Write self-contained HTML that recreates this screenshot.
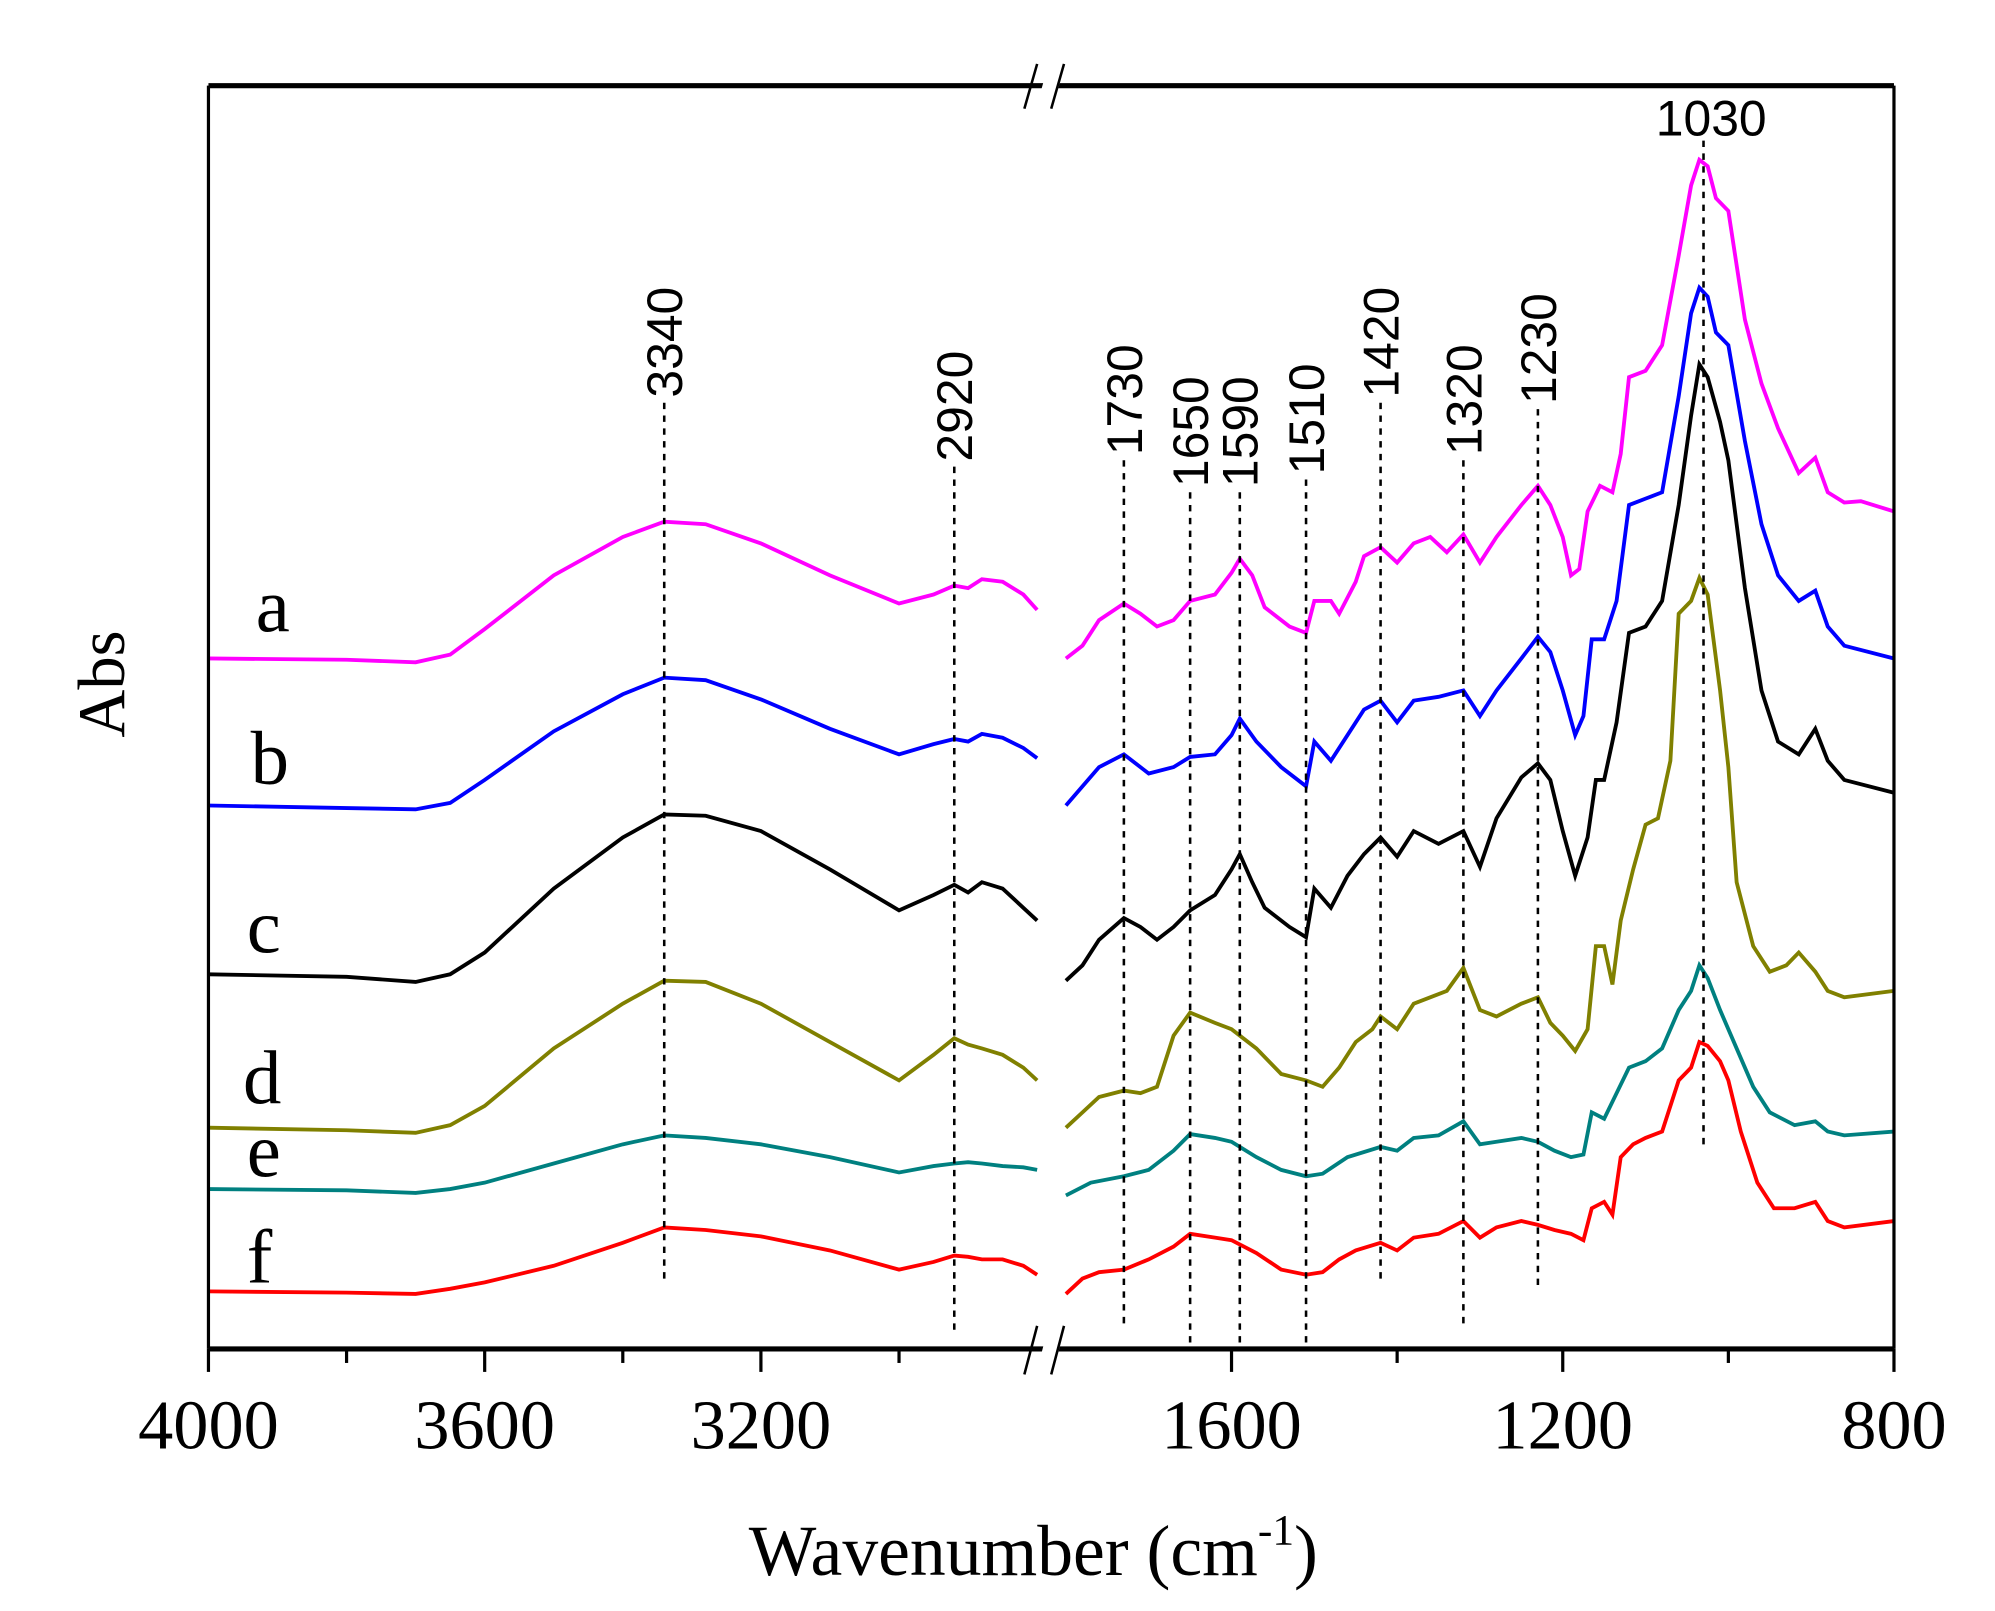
<!DOCTYPE html>
<html><head><meta charset="utf-8"><style>
html,body{margin:0;padding:0;background:#fff;}
svg{display:block;}
.tk{font-family:"Liberation Serif",serif;font-size:55px;}
.pk{font-family:"Liberation Sans",sans-serif;font-size:39px;}
.lt{font-family:"Liberation Serif",serif;font-size:60px;}
</style></head><body>
<svg id="chart" width="1995" height="1611" viewBox="0 0 1560 1260" preserveAspectRatio="none" xmlns="http://www.w3.org/2000/svg">
<rect x="0" y="0" width="1560" height="1260" fill="#fff"/>
<g id="series"></g>
<g id="vlines"></g>
<g id="axes">
 <line x1="163" y1="67" x2="1481" y2="67" stroke="#000" stroke-width="4"/>
 <line x1="163" y1="1055" x2="1481" y2="1055" stroke="#000" stroke-width="4"/>
 <line x1="163" y1="67" x2="163" y2="1055" stroke="#000" stroke-width="2.5"/>
 <line x1="1481" y1="67" x2="1481" y2="1055" stroke="#000" stroke-width="2.5"/>
 <g>
  <polygon points="810,85 823,85 833,50 820,50" fill="#fff"/>
  <line x1="801" y1="85" x2="811" y2="50" stroke="#000" stroke-width="2"/>
  <line x1="822" y1="85" x2="832" y2="50" stroke="#000" stroke-width="2"/>
 </g>
 <g>
  <polygon points="810,1075 823,1075 833,1037 820,1037" fill="#fff"/>
  <line x1="801" y1="1075" x2="811" y2="1037" stroke="#000" stroke-width="2"/>
  <line x1="822" y1="1075" x2="832" y2="1037" stroke="#000" stroke-width="2"/>
 </g>
</g>
<g id="ticks"></g>
<text x="808" y="1232" text-anchor="middle" font-family="Liberation Serif, serif" font-size="56">Wavenumber (cm<tspan dy="-24" font-size="34">-1</tspan><tspan dy="24">)</tspan></text>
<text transform="translate(97,535) rotate(-90)" text-anchor="middle" font-family="Liberation Serif, serif" font-size="52">Abs</text>
<text class="lt" x="200" y="494">a</text>
<text class="lt" x="196" y="613">b</text>
<text class="lt" x="193" y="745">c</text>
<text class="lt" x="190" y="863">d</text>
<text class="lt" x="193" y="920">e</text>
<text class="lt" x="193" y="1003">f</text>
</svg>
<script>
const leftWn=[4000,3800,3700,3650,3600,3500,3400,3340,3280,3200,3100,3000,2950,2920,2900,2880,2850,2820,2800];
const aLeft=[540,539,537,543,563,605,635,647,645,630,605,583,590,597,595,602,600,590,578];
const bLeft=[425,423,422,427,445,483,512,525,523,508,485,465,473,477,475,481,478,470,462];
const cLeft=[293,291,287,293,310,360,400,418,417,405,375,343,355,363,357,365,360,345,335];
const dLeft=[173,171,169,175,190,235,270,288,287,270,240,210,230,243,238,235,230,220,210];
const eLeft=[125,124,122,125,130,145,160,167,165,160,150,138,143,145,146,145,143,142,140];
const fLeft=[45,44,43,47,52,65,83,95,93,88,77,62,68,73,72,70,70,65,58];
const aWn=[1800,1780,1760,1730,1710,1690,1670,1650,1620,1600,1590,1575,1560,1530,1510,1500,1480,1470,1450,1440,1420,1400,1380,1360,1340,1320,1300,1280,1250,1230,1215,1200,1190,1180,1170,1155,1140,1130,1120,1100,1080,1060,1045,1035,1025,1015,1000,980,960,940,915,895,880,860,840,800];
const aRight=[540,550,570,583,575,565,570,585,590,607,618,605,580,565,560,585,585,575,600,620,627,615,630,635,623,637,615,635,660,675,660,635,605,610,655,675,670,700,760,765,785,855,910,930,925,900,890,805,755,720,685,697,670,662,663,655];
const bWn=[1800,1760,1730,1700,1670,1650,1620,1600,1590,1570,1540,1510,1500,1480,1460,1440,1420,1400,1380,1350,1320,1300,1280,1250,1230,1215,1200,1185,1175,1165,1150,1135,1120,1100,1080,1060,1045,1035,1025,1015,1000,980,960,940,915,895,880,860,800];
const bRight=[425,455,465,450,455,463,465,480,493,475,455,440,475,460,480,500,507,490,507,510,515,495,515,540,557,545,515,480,495,555,555,585,660,665,670,745,810,830,823,795,785,710,645,605,585,593,565,550,540];
const cWn=[1800,1780,1760,1730,1710,1690,1670,1650,1620,1600,1590,1575,1560,1530,1510,1500,1480,1460,1440,1420,1400,1380,1350,1320,1300,1280,1250,1230,1215,1200,1185,1170,1160,1150,1135,1120,1100,1080,1060,1045,1035,1025,1010,1000,980,960,940,915,895,880,860,800];
const cRight=[288,300,320,337,330,320,330,343,355,375,387,365,345,330,322,360,345,370,387,400,385,405,395,405,377,415,447,458,445,405,370,400,445,445,490,560,565,585,660,730,770,760,725,695,595,515,475,465,485,460,445,435];
const dWn=[1800,1780,1760,1730,1710,1690,1670,1650,1620,1600,1570,1540,1510,1490,1470,1450,1430,1420,1400,1380,1360,1340,1320,1300,1280,1250,1230,1215,1200,1185,1170,1160,1150,1140,1130,1115,1100,1085,1070,1060,1045,1035,1025,1010,1000,990,970,950,930,915,895,880,860,800];
const dRight=[173,185,197,202,200,205,245,263,255,250,235,215,210,205,220,240,250,260,250,270,275,280,298,265,260,270,275,255,245,233,250,315,315,285,335,375,410,415,460,575,585,603,590,515,455,365,315,295,300,310,295,280,275,280];
const eWn=[1800,1770,1730,1700,1670,1650,1620,1600,1570,1540,1510,1490,1460,1420,1400,1380,1350,1320,1300,1280,1250,1230,1210,1190,1175,1165,1150,1135,1120,1100,1080,1060,1045,1035,1025,1010,990,970,950,920,895,880,860,800];
const eRight=[120,130,135,140,155,168,165,162,150,140,135,137,150,158,155,165,167,178,160,162,165,162,155,150,152,185,180,200,220,225,235,265,280,300,290,265,235,205,185,175,178,170,167,170];
const fWn=[1800,1780,1760,1730,1700,1670,1650,1620,1600,1570,1540,1510,1490,1470,1450,1420,1400,1380,1350,1320,1300,1280,1250,1230,1210,1190,1175,1165,1150,1140,1130,1115,1100,1080,1060,1045,1035,1025,1010,1000,985,965,945,920,895,880,860,800];
const fRight=[43,55,60,62,70,80,90,87,85,75,62,58,60,70,77,83,77,87,90,100,87,95,100,97,93,90,85,110,115,105,150,160,165,170,210,220,240,237,225,210,170,130,110,110,115,100,95,100];
const seriesNames=['a','b','c','d','e','f'];
const seriesColors=['#ff00ff','#0000ff','#000000','#808000','#008080','#ff0000'];
const leftVals=[aLeft,bLeft,cLeft,dLeft,eLeft,fLeft];
const rightWns=[aWn,bWn,cWn,dWn,eWn,fWn];
const rightVals=[aRight,bRight,cRight,dRight,eRight,fRight];
const leftTicks=[4000,3800,3600,3400,3200,3000];
const leftTickLabels=['4000','','3600','','3200',''];
const rightTicks=[1600,1400,1200,1000,800];
const rightTickLabels=['1600','','1200','','800'];
const peakWn=[3340,2920,1730,1650,1590,1510,1420,1320,1230,1030];
const peakTop=[315,365,360,385,385,375,315,360,320,110];
const peakBottom=[1005,1045,1040,1055,1050,1050,1000,1040,1010,900];

const NS='http://www.w3.org/2000/svg';
function xLeft(w){return 163+(4000-w)*0.54;}
function xRight(w){return 963+(1600-w)*0.6475;}
function xScale(w){return w>2000?xLeft(w):xRight(w);}
function yScale(v){return 1055-v;}

const sg=document.getElementById('series');
for(let i=0;i<seriesNames.length;i++){
  const p1=document.createElementNS(NS,'polyline');
  p1.setAttribute('points',leftWn.map((w,j)=>xLeft(w)+','+yScale(leftVals[i][j])).join(' '));
  p1.setAttribute('fill','none');p1.setAttribute('stroke',seriesColors[i]);p1.setAttribute('stroke-width','3');
  
  
  sg.appendChild(p1);
  const p2=document.createElementNS(NS,'polyline');
  p2.setAttribute('points',rightWns[i].map((w,j)=>xRight(w)+','+yScale(rightVals[i][j])).join(' '));
  p2.setAttribute('fill','none');p2.setAttribute('stroke',seriesColors[i]);p2.setAttribute('stroke-width','3');
  
  
  sg.appendChild(p2);
}
const vg=document.getElementById('vlines');
for(let i=0;i<peakWn.length;i++){
  const x=xScale(peakWn[i]);
  const l=document.createElementNS(NS,'line');
  l.setAttribute('x1',x);l.setAttribute('x2',x);l.setAttribute('y1',peakTop[i]);l.setAttribute('y2',peakBottom[i]);
  l.setAttribute('stroke','#000');l.setAttribute('stroke-width','2');l.setAttribute('stroke-dasharray','5,5');
  
  
  vg.appendChild(l);
  const t=document.createElementNS(NS,'text');
  t.setAttribute('class','pk');
  if(peakWn[i]===1030){
    t.setAttribute('x',x+6);t.setAttribute('y',peakTop[i]-4);t.setAttribute('text-anchor','middle');
  }else{
    t.setAttribute('transform','translate('+(x+14)+','+(peakTop[i]-4)+') rotate(-90)');
  }
  t.textContent=String(peakWn[i]);
  
  
  vg.appendChild(t);
}
const tg=document.getElementById('ticks');
function addTick(x,lab){
  const major=lab!=='';
  const l=document.createElementNS(NS,'line');
  l.setAttribute('x1',x);l.setAttribute('x2',x);l.setAttribute('y1',1055);l.setAttribute('y2',major?1073:1066);
  l.setAttribute('stroke','#000');l.setAttribute('stroke-width','2.5');
  
  
  tg.appendChild(l);
  if(major){
    const t=document.createElementNS(NS,'text');
    t.setAttribute('class','tk');t.setAttribute('x',x);t.setAttribute('y',1133);t.setAttribute('text-anchor','middle');
    t.textContent=lab;
    
    
    tg.appendChild(t);
  }
}
leftTicks.forEach((w,i)=>addTick(xLeft(w),leftTickLabels[i]));
rightTicks.forEach((w,i)=>addTick(xRight(w),rightTickLabels[i]));
</script>
</body></html>
